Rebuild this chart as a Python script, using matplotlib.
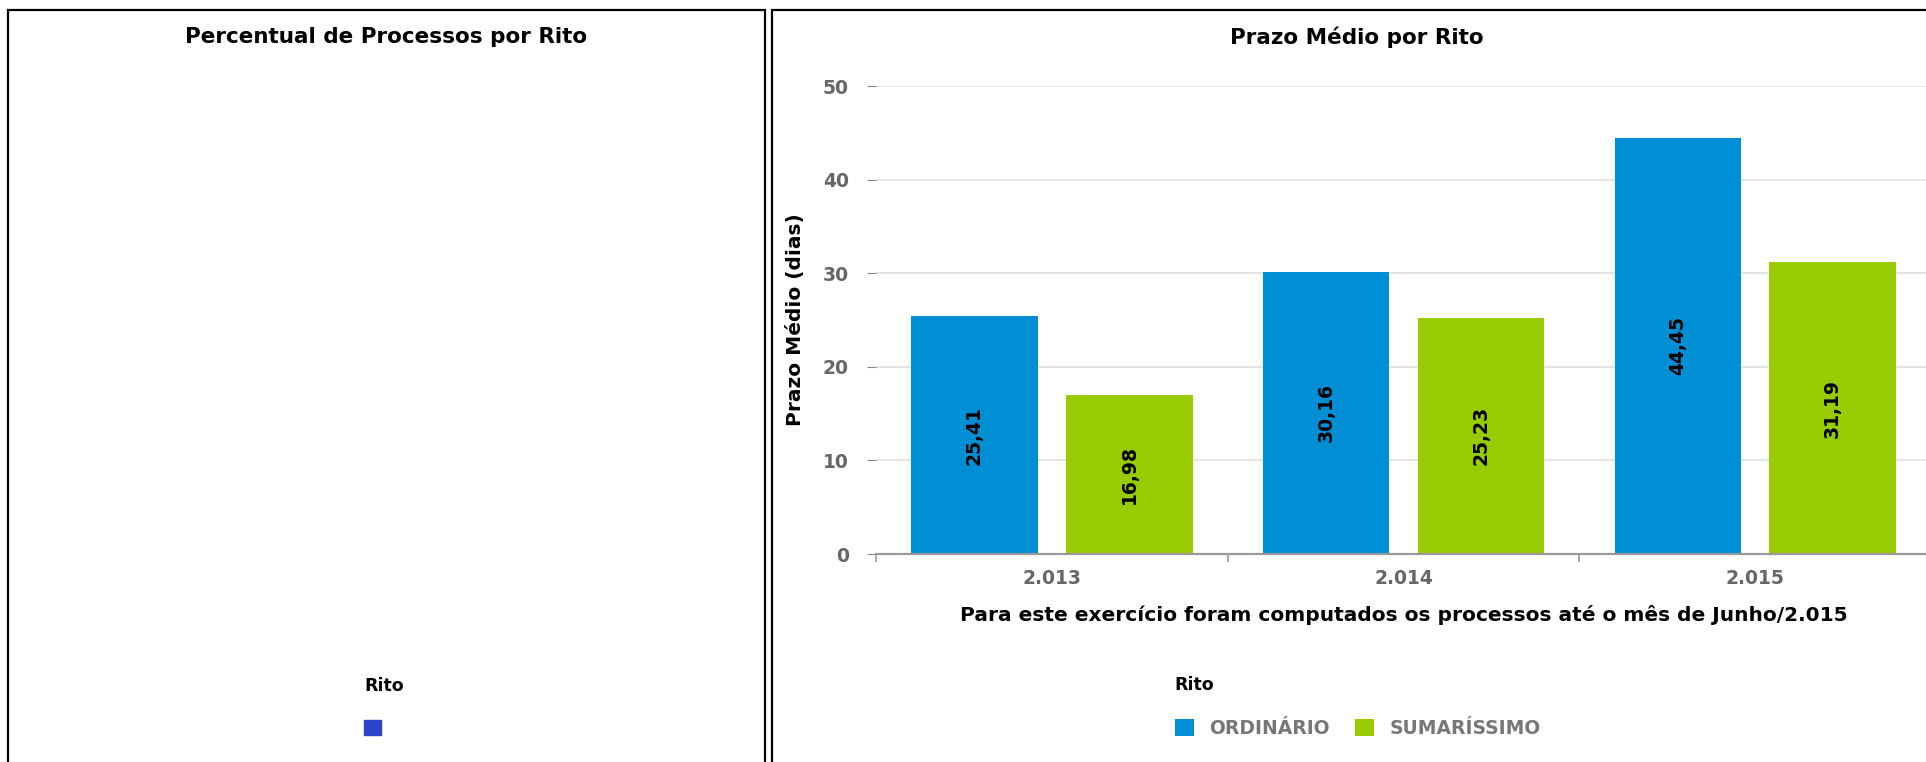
import numpy as np
import matplotlib
matplotlib.use('Agg')
import matplotlib.pyplot as plt
from matplotlib.patches import Rectangle, Patch

# Data
anos = ['2.013', '2.014', '2.015']
ordinario = [25.41, 30.16, 44.45]
sumarissimo = [16.98, 25.23, 31.19]
series = ['ORDINÁRIO', 'SUMARÍSSIMO']
cores = ['#008fd5', '#99cc00']
cor_pizza = '#2b45cc'

plt.rcParams['font.family'] = 'DejaVu Sans'
plt.rcParams['font.weight'] = 'bold'
plt.rcParams['axes.labelweight'] = 'bold'

W, H = 1926, 762
fig = plt.figure(figsize=(W / 100, H / 100), dpi=100)


def px(x0, y0, x1, y1):
    # pixel box (top-left origin) -> figure fraction [l, b, w, h]
    return [x0 / W, 1 - y1 / H, (x1 - x0) / W, (y1 - y0) / H]


# panel frames
for x0, x1 in [(8, 765), (772, 1945)]:
    fig.patches.append(Rectangle((x0 / W, -0.05), (x1 - x0) / W, 1 - 10 / H + 0.05,
                                 transform=fig.transFigure, fill=False,
                                 lw=1.6, ec='black'))

# --- left panel (empty pie) ---
fig.text(386 / W, 1 - 37 / H, 'Percentual de Processos por Rito',
         ha='center', va='center', fontsize=15.5, color='black')
fig.legend(handles=[Patch(color=cor_pizza)], labels=[''], loc='upper left',
           bbox_to_anchor=(349 / W, 1 - 662 / H), frameon=False, title='Rito',
           alignment='left', handlelength=1.0, handleheight=1.0, labelspacing=1.45,
           fontsize=12, title_fontsize=12.5)

# --- right panel (bars) ---
fig.text(1357 / W, 1 - 37 / H, 'Prazo Médio por Rito',
         ha='center', va='center', fontsize=15.5, color='black')

ax = fig.add_axes(px(876, 86, 1931, 554))
x = np.arange(len(anos))
w = 0.36
b1 = ax.bar(x - 0.22, ordinario, w, color=cores[0], label=series[0])
b2 = ax.bar(x + 0.22, sumarissimo, w, color=cores[1], label=series[1])

for b, vals in [(b1, ordinario), (b2, sumarissimo)]:
    ax.bar_label(b, labels=[f'{v:.2f}'.replace('.', ',') for v in vals],
                 label_type='center', rotation=90, fontsize=13.5, color='black')

ax.set_xlim(-0.5, len(anos) - 0.5)
ax.set_ylim(0, 50)
ax.set_yticks(range(0, 51, 10))
ax.set_xticks(x)
ax.set_xticklabels(anos)
ax.set_xticks(np.arange(len(anos) + 1) - 0.5, minor=True)

for s in ['left', 'top', 'right']:
    ax.spines[s].set_visible(False)
ax.spines['bottom'].set_color('#999999')
ax.spines['bottom'].set_linewidth(1.6)

ax.grid(axis='y', color='#e2e2e2', lw=1.3)
ax.set_axisbelow(True)

ax.tick_params(axis='y', length=6.5, color='#888888', pad=13,
               labelcolor='#666666', labelsize=13.5)
ax.tick_params(axis='x', which='major', length=0, pad=11,
               labelcolor='#666666', labelsize=13.5)
ax.tick_params(axis='x', which='minor', length=6, color='#999999', width=1.2)

ax.set_ylabel('Prazo Médio (dias)', fontsize=14.5, color='black')
ax.yaxis.set_label_coords(-71 / 1055, 0.5)
ax.set_xlabel('Para este exercício foram computados os processos até o mês de Junho/2.015',
              fontsize=14.5, color='black')
ax.xaxis.set_label_coords(0.5, -51 / 468)

leg = fig.legend(handles=[b1, b2], labels=series, loc='upper left',
                 bbox_to_anchor=(1158 / W, 1 - 659.5 / H), ncol=2, frameon=False,
                 title='Rito', alignment='left', handlelength=1.0, handleheight=1.0,
                 labelspacing=1.3, columnspacing=1.33, handletextpad=0.85,
                 fontsize=13.5, title_fontsize=12.5)
for t in leg.get_texts():
    t.set_color('#777777')

fig.savefig('out.png', dpi=100)
